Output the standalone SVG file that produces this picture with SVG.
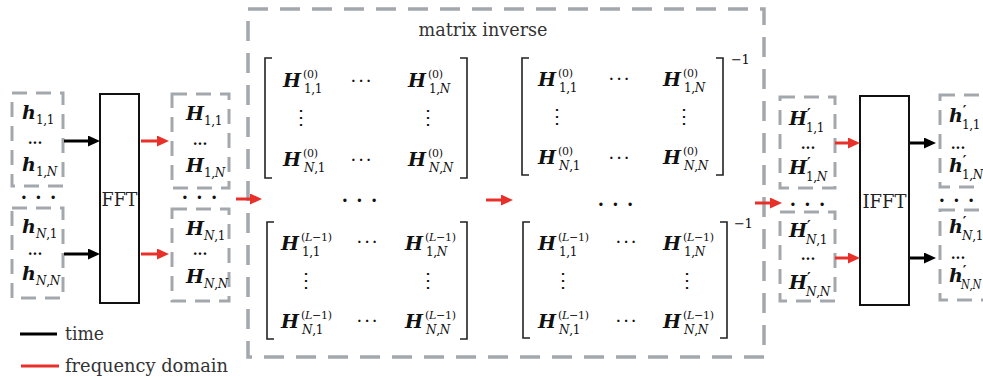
<svg xmlns="http://www.w3.org/2000/svg" width="983" height="377" viewBox="0 0 983 377">
<defs>
<style>
.db{fill:none;stroke:#A3A8AD;stroke-width:3;stroke-dasharray:15 9}
.big{fill:none;stroke:#A3A8AD;stroke-width:3.5;stroke-dasharray:20 12}
.blk{fill:#fff;stroke:#111;stroke-width:2}
.br{fill:none;stroke:#222;stroke-width:1.6}
text{fill:#111;font-family:"DejaVu Serif","Liberation Serif",serif}
.v{font-weight:bold;font-style:italic;font-size:19px}
.s{font-size:12px;font-style:normal;font-weight:normal;letter-spacing:-0.3px}
.p{font-size:11px;letter-spacing:-0.3px}
.i{font-style:italic}
.pr{font-size:14px;font-weight:bold;font-style:normal}
.d3{font-size:14px;font-weight:bold;text-anchor:middle}
.dd{font-size:18px;font-weight:bold;text-anchor:middle;letter-spacing:1px}
.hd{font-size:18px;text-anchor:middle;letter-spacing:2px}
.vd{font-size:20px;text-anchor:middle}
.lbl{font-size:19px;fill:#333}
.ar{stroke-width:3;fill:none}
.red{stroke:#E8302A}
.bk{stroke:#000}
</style>
<marker id="mb" markerUnits="userSpaceOnUse" viewBox="0 0 12 11" refX="4" refY="5.5" markerWidth="12" markerHeight="11" orient="auto"><path d="M0,0 L12,5.5 L0,11 z" fill="#000"/></marker>
<marker id="mr" markerUnits="userSpaceOnUse" viewBox="0 0 12 11" refX="4" refY="5.5" markerWidth="12" markerHeight="11" orient="auto"><path d="M0,0 L12,5.5 L0,11 z" fill="#E8302A"/></marker>
</defs>
<rect width="983" height="377" fill="#fff"/>

<g id="time-in-1">
<rect class="db" x="12" y="93" width="51" height="93"/>
<text class="v" x="22" y="119">h</text><text class="s" x="36" y="124">1,1</text>
<text class="d3" x="35" y="144">...</text>
<text class="v" x="22" y="171">h</text><text class="s" x="36" y="176">1,<tspan class="i">N</tspan></text>
</g>
<text class="dd" x="39" y="199">. . .</text>
<g id="time-in-N">
<rect class="db" x="12" y="208" width="51" height="90"/>
<text class="v" x="22" y="233">h</text><text class="s" x="36" y="238"><tspan class="i">N</tspan>,1</text>
<text class="d3" x="35" y="255">...</text>
<text class="v" x="22" y="280">h</text><text class="s" x="36" y="285"><tspan class="i">N</tspan>,<tspan class="i">N</tspan></text>
</g>

<g id="fft">
<rect class="blk" x="100" y="94" width="39" height="209"/>
<text class="lbl" x="119.5" y="206" text-anchor="middle" textLength="36" lengthAdjust="spacingAndGlyphs" style="fill:#222">FFT</text>
</g>

<g id="freq-in-1">
<rect class="db" x="172" y="94" width="57" height="94"/>
<text class="v" x="186" y="120">H</text><text class="s" x="204" y="125">1,1</text>
<text class="d3" x="200" y="145">...</text>
<text class="v" x="186" y="172">H</text><text class="s" x="204" y="177">1,<tspan class="i">N</tspan></text>
</g>
<text class="dd" x="200" y="199">. . .</text>
<g id="freq-in-N">
<rect class="db" x="172" y="209" width="57" height="92"/>
<text class="v" x="186" y="235">H</text><text class="s" x="204" y="240"><tspan class="i">N</tspan>,1</text>
<text class="d3" x="200" y="255">...</text>
<text class="v" x="186" y="283">H</text><text class="s" x="204" y="288"><tspan class="i">N</tspan>,<tspan class="i">N</tspan></text>
</g>

<g id="matrix-inverse">
<rect class="big" x="248" y="9" width="516" height="348"/>
<text class="lbl" x="483" y="36" text-anchor="middle" textLength="129" lengthAdjust="spacingAndGlyphs">matrix inverse</text>

<g id="m-0">
<path class="br" d="M272,58 H265 V178 H272 M460,58 H467 V178 H460"/>
<text class="v" x="283" y="87">H</text><text class="p" x="303" y="78">(0)</text><text class="s" x="304" y="93">1,1</text>
<text class="hd" x="362" y="87">···</text>
<text class="v" x="408" y="87">H</text><text class="p" x="428" y="78">(0)</text><text class="s" x="429" y="93">1,<tspan class="i">N</tspan></text>
<text class="vd" x="301" y="124">⋮</text><text class="vd" x="428" y="124">⋮</text>
<text class="v" x="283" y="166">H</text><text class="p" x="303" y="157">(0)</text><text class="s" x="304" y="172"><tspan class="i">N</tspan>,1</text>
<text class="hd" x="362" y="166">···</text>
<text class="v" x="408" y="166">H</text><text class="p" x="428" y="157">(0)</text><text class="s" x="429" y="172"><tspan class="i">N</tspan>,<tspan class="i">N</tspan></text>
</g>
<text class="dd" x="360" y="202">. . .</text>
<g id="m-L">
<path class="br" d="M274,222 H267 V339 H274 M460,222 H467 V339 H460"/>
<text class="v" x="281" y="250">H</text><text class="p" x="301" y="241">(<tspan class="i">L</tspan>−1)</text><text class="s" x="302" y="256">1,1</text>
<text class="hd" x="368" y="248">···</text>
<text class="v" x="405" y="250">H</text><text class="p" x="425" y="241">(<tspan class="i">L</tspan>−1)</text><text class="s" x="426" y="256">1,<tspan class="i">N</tspan></text>
<text class="vd" x="306" y="287">⋮</text><text class="vd" x="428" y="287">⋮</text>
<text class="v" x="281" y="328">H</text><text class="p" x="301" y="319">(<tspan class="i">L</tspan>−1)</text><text class="s" x="302" y="334"><tspan class="i">N</tspan>,1</text>
<text class="hd" x="368" y="327">···</text>
<text class="v" x="405" y="328">H</text><text class="p" x="425" y="319">(<tspan class="i">L</tspan>−1)</text><text class="s" x="426" y="334"><tspan class="i">N</tspan>,<tspan class="i">N</tspan></text>
</g>

<g id="m-0-inv">
<path class="br" d="M529,58 H522 V175 H529 M716,58 H723 V175 H716"/>
<text class="p" x="731" y="64" style="font-size:13px">−1</text>
<text class="v" x="538" y="86">H</text><text class="p" x="558" y="77">(0)</text><text class="s" x="559" y="92">1,1</text>
<text class="hd" x="620" y="85">···</text>
<text class="v" x="663" y="86">H</text><text class="p" x="683" y="77">(0)</text><text class="s" x="684" y="92">1,<tspan class="i">N</tspan></text>
<text class="vd" x="557" y="123">⋮</text><text class="vd" x="684" y="123">⋮</text>
<text class="v" x="538" y="164">H</text><text class="p" x="558" y="155">(0)</text><text class="s" x="559" y="170"><tspan class="i">N</tspan>,1</text>
<text class="hd" x="620" y="164">···</text>
<text class="v" x="663" y="164">H</text><text class="p" x="683" y="155">(0)</text><text class="s" x="684" y="170"><tspan class="i">N</tspan>,<tspan class="i">N</tspan></text>
</g>
<text class="dd" x="616" y="206">. . .</text>
<g id="m-L-inv">
<path class="br" d="M530,222 H523 V338 H530 M720,222 H727 V338 H720"/>
<text class="p" x="734" y="228" style="font-size:13px">−1</text>
<text class="v" x="538" y="250">H</text><text class="p" x="558" y="241">(<tspan class="i">L</tspan>−1)</text><text class="s" x="559" y="256">1,1</text>
<text class="hd" x="627" y="248">···</text>
<text class="v" x="663" y="250">H</text><text class="p" x="683" y="241">(<tspan class="i">L</tspan>−1)</text><text class="s" x="684" y="256">1,<tspan class="i">N</tspan></text>
<text class="vd" x="563" y="287">⋮</text><text class="vd" x="687" y="287">⋮</text>
<text class="v" x="538" y="328">H</text><text class="p" x="558" y="319">(<tspan class="i">L</tspan>−1)</text><text class="s" x="559" y="334"><tspan class="i">N</tspan>,1</text>
<text class="hd" x="627" y="327">···</text>
<text class="v" x="663" y="328">H</text><text class="p" x="683" y="319">(<tspan class="i">L</tspan>−1)</text><text class="s" x="684" y="334"><tspan class="i">N</tspan>,<tspan class="i">N</tspan></text>
</g>
</g>

<g id="freq-out-1">
<rect class="db" x="780" y="97" width="55" height="91"/>
<text class="v" x="789" y="125">H<tspan class="pr" dy="-6">′</tspan><tspan class="s" x="806" dy="13">1,1</tspan></text>
<text class="d3" x="808" y="149">...</text>
<text class="v" x="789" y="174">H<tspan class="pr" dy="-6">′</tspan><tspan class="s" x="806" dy="13">1,<tspan class="i">N</tspan></tspan></text>
</g>
<text class="dd" x="808" y="206">. . .</text>
<g id="freq-out-N">
<rect class="db" x="780" y="212" width="55" height="89"/>
<text class="v" x="789" y="237">H<tspan class="pr" dy="-6">′</tspan><tspan class="s" x="806" dy="13"><tspan class="i">N</tspan>,1</tspan></text>
<text class="d3" x="808" y="260">...</text>
<text class="v" x="789" y="289">H<tspan class="pr" dy="-6">′</tspan><tspan class="s" x="806" dy="13"><tspan class="i">N</tspan>,<tspan class="i">N</tspan></tspan></text>
</g>

<g id="ifft">
<rect class="blk" x="860" y="96" width="49" height="209"/>
<text class="lbl" x="884.5" y="208" text-anchor="middle" textLength="44" lengthAdjust="spacingAndGlyphs" style="fill:#222">IFFT</text>
</g>

<g id="time-out-1">
<rect class="db" x="940" y="95" width="55" height="92"/>
<text class="v" x="949" y="122">h<tspan class="pr" dy="-6">′</tspan><tspan class="s" x="962" dy="13">1,1</tspan></text>
<text class="d3" x="958" y="149">...</text>
<text class="v" x="949" y="172">h<tspan class="pr" dy="-6">′</tspan><tspan class="s" x="962" dy="13">1,<tspan class="i">N</tspan></tspan></text>
</g>
<text class="dd" x="957" y="202">. . .</text>
<g id="time-out-N">
<rect class="db" x="940" y="210" width="55" height="90"/>
<text class="v" x="949" y="233">h<tspan class="pr" dy="-6">′</tspan><tspan class="s" x="962" dy="13"><tspan class="i">N</tspan>,1</tspan></text>
<text class="d3" x="958" y="259">...</text>
<text class="v" x="949" y="282">h<tspan class="pr" dy="-6">′</tspan><tspan class="s" x="961" dy="13" textLength="20" lengthAdjust="spacingAndGlyphs"><tspan class="i">N</tspan>,<tspan class="i">N</tspan></tspan></text>
</g>

<g id="connectors">
<line class="ar bk" x1="64" y1="141" x2="92" y2="141" marker-end="url(#mb)"/>
<line class="ar bk" x1="64" y1="254" x2="92" y2="254" marker-end="url(#mb)"/>
<line class="ar red" x1="141" y1="141" x2="161" y2="141" marker-end="url(#mr)"/>
<line class="ar red" x1="141" y1="254" x2="161" y2="254" marker-end="url(#mr)"/>
<line class="ar red" x1="236" y1="199" x2="254" y2="199" marker-end="url(#mr)"/>
<line class="ar red" x1="486" y1="200" x2="505" y2="200" marker-end="url(#mr)"/>
<line class="ar red" x1="755" y1="203" x2="774" y2="203" marker-end="url(#mr)"/>
<line class="ar red" x1="835" y1="143" x2="852" y2="143" marker-end="url(#mr)"/>
<line class="ar red" x1="835" y1="258" x2="852" y2="258" marker-end="url(#mr)"/>
<line class="ar bk" x1="910" y1="143" x2="928" y2="143" marker-end="url(#mb)"/>
<line class="ar bk" x1="910" y1="258" x2="928" y2="258" marker-end="url(#mb)"/>
</g>

<g id="legend">
<line class="ar bk" x1="20" y1="334" x2="57" y2="334"/>
<text class="lbl" x="65" y="340" textLength="39" lengthAdjust="spacingAndGlyphs">time</text>
<line class="ar red" x1="21" y1="366" x2="59" y2="366"/>
<text class="lbl" x="65" y="372" textLength="163" lengthAdjust="spacingAndGlyphs">frequency domain</text>
</g>
</svg>
